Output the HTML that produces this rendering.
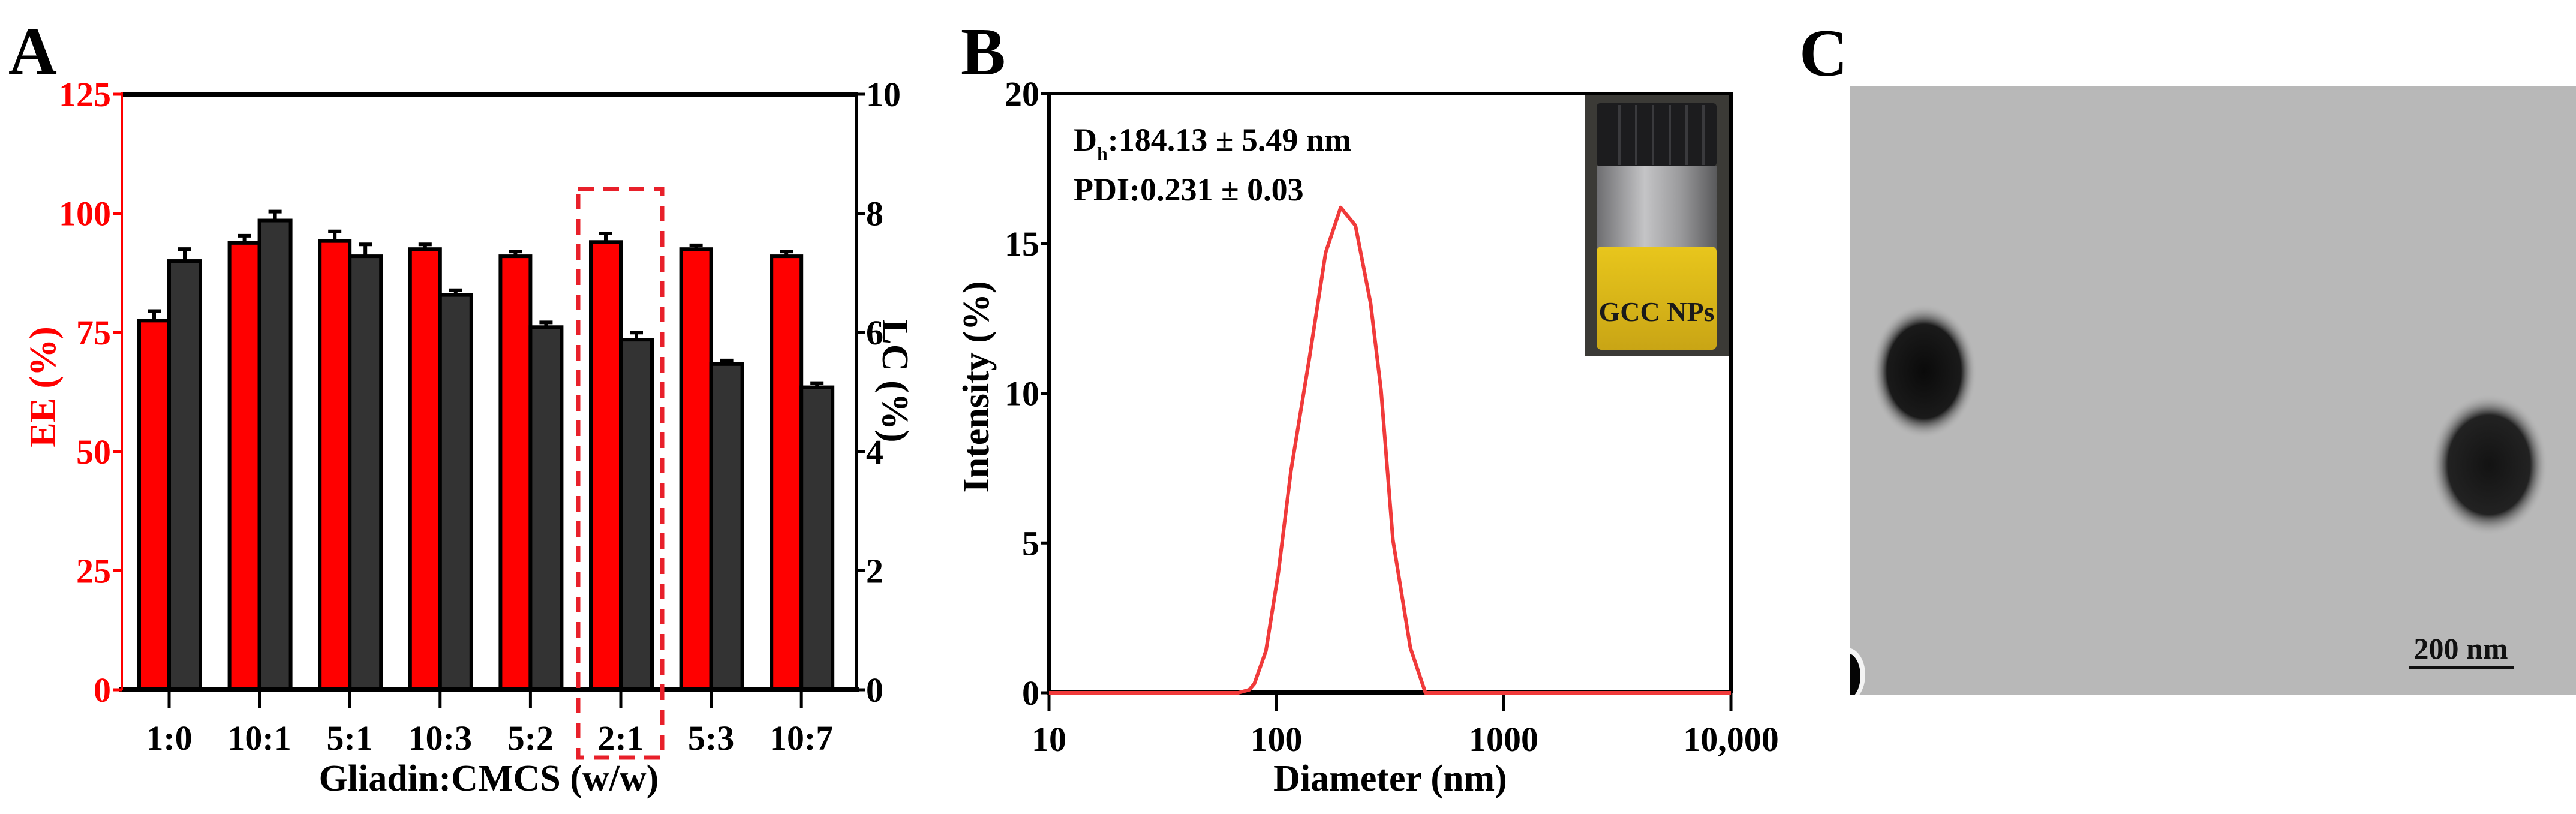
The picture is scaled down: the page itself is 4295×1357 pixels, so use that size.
<!DOCTYPE html>
<html><head><meta charset="utf-8"><style>
html,body{margin:0;padding:0;background:#fff;}
svg{display:block;font-family:"Liberation Serif",serif;font-weight:bold;}
</style></head><body>
<svg id="fig" width="4295" height="1357" viewBox="0 0 4295 1357" xmlns="http://www.w3.org/2000/svg">
<defs>
<radialGradient id="blob" cx="50%" cy="50%" r="50%">
<stop offset="0%" stop-color="#0a0a0a"/><stop offset="70%" stop-color="#1a1a1a"/><stop offset="100%" stop-color="#b5b5b5" stop-opacity="0"/>
</radialGradient>
<linearGradient id="liquid" x1="0" y1="0" x2="0" y2="1"><stop offset="0" stop-color="#e8c61c"/><stop offset="1" stop-color="#c9a515"/></linearGradient>
<linearGradient id="glass" x1="0" y1="0" x2="1" y2="0"><stop offset="0" stop-color="#6d6d70"/><stop offset="0.4" stop-color="#c4c4c6"/><stop offset="0.7" stop-color="#9a9a9c"/><stop offset="1" stop-color="#5a5a5c"/></linearGradient>
<clipPath id="temClip"><rect x="3085" y="143" width="1210" height="1015"/></clipPath>
</defs>
<text x="14" y="123" font-size="112">A</text>
<text x="1602" y="124" font-size="112">B</text>
<text x="3000" y="126" font-size="112">C</text>
<g id="chartA"></g>
<g id="chartB"></g>
<g clip-path="url(#temClip)">
<rect x="3085" y="143" width="1210" height="1015" fill="#b8b8b8"/>
<ellipse cx="3208" cy="619" rx="88" ry="112" fill="url(#blob)"/>
<ellipse cx="4150" cy="775" rx="98" ry="118" fill="url(#blob)" opacity="0.95"/>
<ellipse cx="3080" cy="1125" rx="30" ry="45" fill="#f4f4f4"/>
<ellipse cx="3080" cy="1127" rx="22" ry="38" fill="#050505"/>
<text x="4103" y="1098" font-size="50" text-anchor="middle" fill="#111">200 nm</text>
<rect x="4016" y="1110" width="175" height="6" fill="#111"/>
</g>
</svg>
<script>
const NS="http://www.w3.org/2000/svg";
function mk(p,t,a){const e=document.createElementNS(NS,t);for(const k in a)e.setAttribute(k,a[k]);p.appendChild(e);return e;}
// ---------- Chart A data ----------
const categoriesA=["1:0","10:1","5:1","10:3","5:2","2:1","5:3","10:7"];
const eeValues=[77.5,93.8,94.2,92.5,91,94,92.5,91];
const eeErrors=[2,1.5,2,1,1,1.8,0.8,1];
const lcValues=[7.2,7.88,7.28,6.63,6.09,5.88,5.47,5.08];
const lcErrors=[0.2,0.15,0.2,0.08,0.08,0.12,0.06,0.07];
const eeTicks=[0,25,50,75,100,125];
const lcTicks=[0,2,4,6,8,10];
const highlightIndex=5;
// ---------- Chart B data ----------
const diameters=[10,40,68,76,80,90,102,116,140,165,192,223,260,289,326,389,453,600,10000];
const intensities=[0,0,0,0.1,0.3,1.4,4.0,7.4,11.2,14.7,16.2,15.6,13.0,10.1,5.1,1.5,0,0,0];
const bTicksY=[0,5,10,15,20];
const bTicksX=[10,100,1000,10000];
const bTickLabelsX=["10","100","1000","10,000"];

(function(){
const g=document.getElementById('chartA');
const L=203,R=1428,T=157,B=1150;
const yEE=v=>B-(v/125)*(B-T);
const yLC=v=>B-(v/10)*(B-T);
const cx=i=>282+i*150.6;
categoriesA.forEach((c,i)=>{
 const x=cx(i);
 const r=mk(g,'rect',{x:x-50,y:yEE(eeValues[i]),width:50,height:B-yEE(eeValues[i]),fill:'#ff0000',stroke:'#000','stroke-width':6});
 
 
 const d=mk(g,'rect',{x:x,y:yLC(lcValues[i]),width:52,height:B-yLC(lcValues[i]),fill:'#333333',stroke:'#000','stroke-width':6});
 
 
 const e1=mk(g,'path',{d:`M${x-25} ${yEE(eeValues[i])}V${yEE(eeValues[i]+eeErrors[i])}M${x-36} ${yEE(eeValues[i]+eeErrors[i])}H${x-14}`,stroke:'#000','stroke-width':6,fill:'none'});
 
 
 const e2=mk(g,'path',{d:`M${x+26} ${yLC(lcValues[i])}V${yLC(lcValues[i]+lcErrors[i])}M${x+15} ${yLC(lcValues[i]+lcErrors[i])}H${x+37}`,stroke:'#000','stroke-width':6,fill:'none'});
 
 
 const tk=mk(g,'line',{x1:x,y1:B,x2:x,y2:B+30,stroke:'#000','stroke-width':5});
 
 
 const t=mk(g,'text',{x:x,y:1250,'font-size':58,'text-anchor':'middle',fill:'#000'});t.textContent=c;
 
 
});
const ax=mk(g,'path',{d:`M${L} ${T}H${R}M${L-4} ${B}H${R+4}`,stroke:'#000','stroke-width':8,fill:'none'});


const la=mk(g,'line',{x1:L,y1:T-4,x2:L,y2:B,stroke:'#ff0000','stroke-width':4});


const ra=mk(g,'line',{x1:R,y1:T-4,x2:R,y2:B+4,stroke:'#000','stroke-width':5});


eeTicks.forEach(v=>{
 const l=mk(g,'line',{x1:L-14,y1:yEE(v),x2:L,y2:yEE(v),stroke:'#ff0000','stroke-width':5});
 
 
 const t=mk(g,'text',{x:L-18,y:yEE(v)+20,'font-size':58,'text-anchor':'end',fill:'#ff0000'});t.textContent=v;
 
 
});
lcTicks.forEach(v=>{
 const l=mk(g,'line',{x1:R,y1:yLC(v),x2:R+14,y2:yLC(v),stroke:'#000','stroke-width':5});
 
 
 const t=mk(g,'text',{x:R+16,y:yLC(v)+20,'font-size':58,'text-anchor':'start',fill:'#000'});t.textContent=v;
 
 
});
const hb=mk(g,'rect',{x:cx(highlightIndex)-71,y:315,width:140,height:948,fill:'none',stroke:'#e8202a','stroke-width':7,'stroke-dasharray':'26 16'});


const yt=mk(g,'text',{x:0,y:0,'font-size':62,'text-anchor':'middle',fill:'#ff0000',transform:'translate(92 645) rotate(-90)'});yt.textContent='EE (%)';


const yt2=mk(g,'text',{x:0,y:0,'font-size':62,'text-anchor':'middle',fill:'#000',transform:'translate(1472 635) rotate(90)'});yt2.textContent='LC (%)';


const xt=mk(g,'text',{x:815,y:1318,'font-size':62,'text-anchor':'middle',fill:'#000'});xt.textContent='Gliadin:CMCS (w/w)';


})();

(function(){
const g=document.getElementById('chartB');
const L=1749,R=2886,T=156,B=1155;
const xS=d=>L+(Math.log10(d)-1)/3*(R-L);
const yS=v=>B-(v/20)*(B-T);
const fr=mk(g,'path',{d:`M${L} ${T}H${R}V${B}`,stroke:'#000','stroke-width':6,fill:'none'});


const ax=mk(g,'path',{d:`M${L} ${T-3}V${B}H${R}`,stroke:'#000','stroke-width':8,fill:'none'});


bTicksY.forEach(v=>{
 const l=mk(g,'line',{x1:L-14,y1:yS(v),x2:L,y2:yS(v),stroke:'#000','stroke-width':5});
 
 
 const t=mk(g,'text',{x:L-16,y:yS(v)+20,'font-size':58,'text-anchor':'end',fill:'#000'});t.textContent=v;
 
 
});
bTicksX.forEach((v,i)=>{
 const l=mk(g,'line',{x1:xS(v),y1:B,x2:xS(v),y2:B+30,stroke:'#000','stroke-width':5});
 
 
 const t=mk(g,'text',{x:xS(v),y:1252,'font-size':58,'text-anchor':'middle',fill:'#000'});t.textContent=bTickLabelsX[i];
 
 
});
const pts=diameters.map((d,i)=>xS(d).toFixed(1)+','+yS(intensities[i]).toFixed(1)).join(' ');
const pl=mk(g,'polyline',{points:pts,fill:'none',stroke:'#f03a3a','stroke-width':6,'stroke-linejoin':'round'});


const t1=mk(g,'text',{x:1790,y:251,'font-size':54,fill:'#000'});
t1.innerHTML='D<tspan font-size="32" dy="16">h</tspan><tspan dy="-16">:184.13 ± 5.49 nm</tspan>';


const t2=mk(g,'text',{x:1790,y:334,'font-size':54,fill:'#000'});t2.textContent='PDI:0.231 ± 0.03';


const ins=mk(g,'g',{});


mk(ins,'rect',{x:2643,y:158,width:240,height:435,fill:'#3b3a36'});
mk(ins,'rect',{x:2662,y:172,width:200,height:105,fill:'#1c1c1e',rx:6});
for(let k=0;k<6;k++){mk(ins,'line',{x1:2700+k*28,y1:175,x2:2700+k*28,y2:275,stroke:'#3a3a3d','stroke-width':4});}
mk(ins,'rect',{x:2662,y:276,width:200,height:140,fill:'url(#glass)'});
mk(ins,'rect',{x:2662,y:411,width:200,height:172,fill:'url(#liquid)',rx:8});
const gt=mk(ins,'text',{x:2762,y:535,'font-size':46,'text-anchor':'middle',fill:'#1a1a1a'});gt.textContent='GCC NPs';


const yt=mk(g,'text',{x:0,y:0,'font-size':62,'text-anchor':'middle',fill:'#000',transform:'translate(1648 645) rotate(-90)'});yt.textContent='Intensity (%)';


const xt=mk(g,'text',{x:2318,y:1318,'font-size':62,'text-anchor':'middle',fill:'#000'});xt.textContent='Diameter (nm)';


})();
</script>
</body></html>
